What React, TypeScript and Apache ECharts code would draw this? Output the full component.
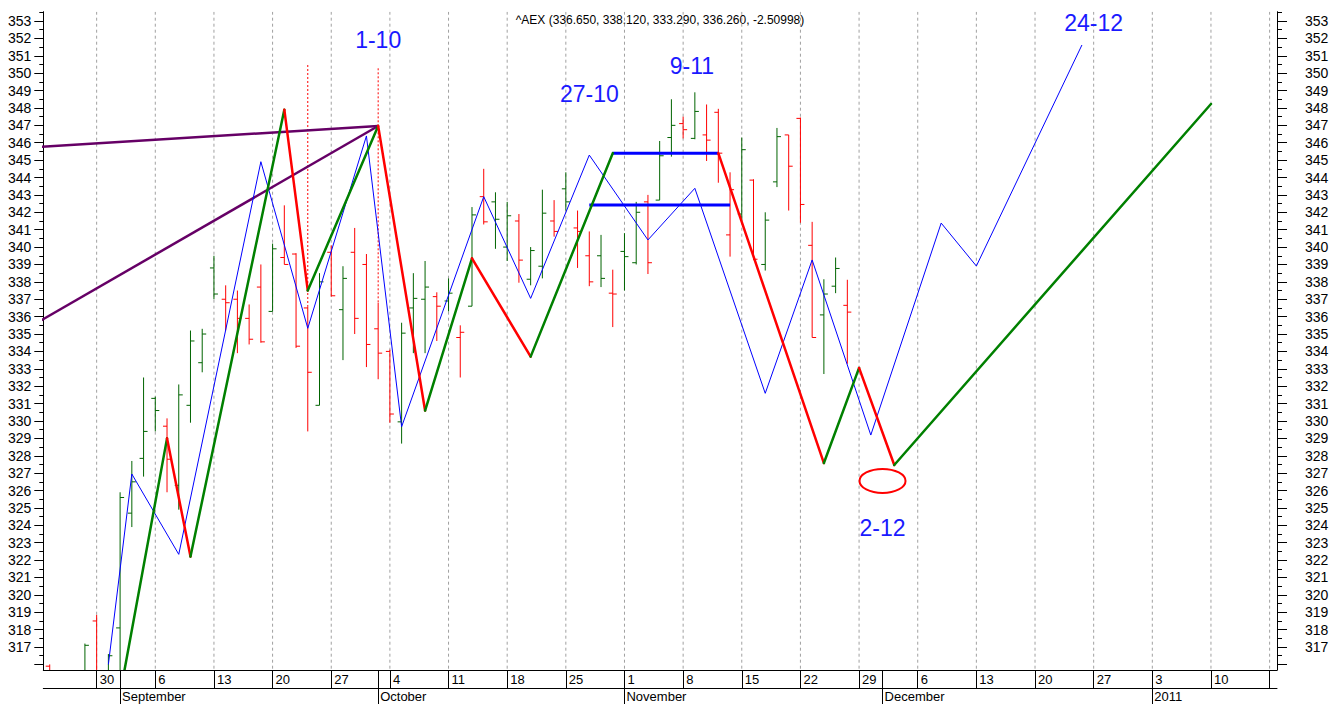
import React, { useEffect, useRef } from "react";
import * as echarts from "echarts";

// x = trading-day index, 0 = Monday 23 Aug 2010 (5 weekdays per week)
const weekLabels = ["23","30","6","13","20","27","4","11","18","25","1","8","15","22","29","6","13","20","27","3","10","17"];
const monthNames = ["September", "October", "November", "December", "2011"];
const monthStartDays = [7, 29, 50, 72, 95];

const barDays = [1,4,5,6,7,8,9,10,11,12,13,14,15,16,17,18,19,20,21,22,23,24,25,26,27,28,29,30,31,32,33,34,35,36,37,38,39,40,41,42,43,44,45,46,47,48,49,50,51,52,53,54,55,56,57,58,59,60,61,62,63,64,65,66,67,68,69];
const opens = [315.9,314.2,318.5,315.2,318.1,324.7,327.85,331.3,329.7,326.3,330.9,333.35,338.8,337.0,337.0,335.9,337.7,336.3,339.4,339.6,336.5,330.9,339.7,336.4,339.7,339.0,335.3,334.0,329.95,336.5,337.0,337.15,336.9,334.8,336.6,342.9,342.6,340.0,341.5,338.15,338.9,341.5,343.35,341.1,339.5,339.5,337.35,339.75,339.1,342.6,342.7,346.3,347.1,346.25,346.45,347.75,340.7,341.9,343.85,339.0,343.75,346.45,347.4,340.1,336.1,337.75,336.65];
const highs = [316.0,317.2,318.85,316.6,325.9,327.7,332.5,331.4,330.15,332.1,335.2,335.3,339.5,337.8,337.5,336.7,339.0,340.2,342.4,339.65,336.6,338.5,340.1,338.9,341.1,339.6,336.8,334.1,335.65,338.5,339.2,337.4,338.2,335.5,342.3,344.5,343.15,342.6,341.9,340.0,343.3,342.7,344.3,342.1,340.9,340.7,338.7,340.8,342.6,343.0,346.1,348.5,347.5,348.9,348.2,347.95,344.3,346.3,343.9,342.0,346.85,346.45,347.45,341.45,338.15,339.4,338.12];
const lows = [312.3,313.8,314.5,314.6,315.3,323.9,326.8,329.4,325.9,324.9,329.9,332.8,337.0,335.2,333.9,334.4,334.5,336.3,339.0,334.2,329.4,330.9,337.15,333.5,335.0,333.1,332.4,329.9,328.7,333.9,333.9,334.6,336.3,332.5,336.6,341.3,339.9,339.2,337.95,337.8,338.2,340.6,342.1,338.8,337.75,337.7,335.4,337.5,339.0,338.45,342.7,345.2,346.25,346.2,344.95,343.7,339.45,341.5,339.25,338.65,343.45,342.1,341.4,334.8,332.7,337.35,333.29];
const closes = [312.6,317.1,315.0,316.5,325.6,326.5,329.4,330.6,327.8,331.5,334.6,335.0,337.3,336.8,335.9,334.7,334.55,339.9,339.0,334.3,332.8,338.0,337.2,338.2,335.9,334.4,333.9,330.4,335.05,337.05,337.7,336.6,337.35,335.1,341.85,341.45,341.6,341.8,339.25,339.8,341.95,340.9,342.6,340.9,338.0,338.2,337.3,339.45,342.0,339.1,345.25,347.0,346.75,347.8,346.15,345.4,343.3,345.6,339.3,341.55,346.35,344.65,342.45,334.8,337.3,338.77,336.26];

// swing lines (green up-legs, red down-legs)
const swingA = [[7,314.3],[11,329.0],[13,322.2],[21,347.9],[23,337.5],[29,346.96],[33,330.6],[37,339.35],[42,333.7],[49,345.4]];
const swingB = [[58,345.4],[67,327.58],[70,333.05],[73,327.47],[100,348.23]];
// thin blue zigzag
const blueZig = [[6,316.0],[8,326.95],[12,322.33],[19,344.91],[23,335.33],[28,346.39],[31,329.67],[38,342.9],[42,337.05],[47,345.29],[52,340.41],[56,343.38],[62,331.59],[66,339.26],[71,329.19],[77,341.38],[80,338.91],[89,351.62]];
// thick blue levels
const levelHigh = [[49,345.4],[58,345.4]];
const levelLow = [[47,342.42],[59,342.42]];
// purple trend lines
const trendFlat = [[0,345.75],[29,346.96]];
const trendSteep = [[0,335.68],[29,346.96]];
// dotted red cycle markers [day, top]
const cycleMarks = [[23,350.47],[29,350.28]];
// annotations [day, value, text]
const notes = [[29,351.9,"1-10"],[47,348.8,"27-10"],[55.75,350.4,"9-11"],[90,352.88,"24-12"],[72,323.85,"2-12"]];
const circleAt = [[72,326.55]];
const titleText = "^AEX (336.650, 338.120, 333.290, 336.260, -2.50998)";

const X_MIN = 0.452, X_MAX = 105.63, Y_MIN = 315.68, Y_MAX = 353.535;
const GREEN_BAR = "#006400", RED = "#ff0000", GREEN = "#008000", BLUE = "#0000ff", PURPLE = "#660066";
const FONT = "Liberation Sans, Arial, sans-serif";

const mondays = weekLabels.map((_, k) => k * 5).filter((d) => d > X_MIN && d < X_MAX);
const labelMondays = mondays.filter((d) => d <= 100);
const yInts: number[] = [];
for (let v = 316; v <= 353; v++) yInts.push(v);
const yHalves: number[] = [];
for (let v = 316; v <= 353; v++) yHalves.push(v - 0.5);
yHalves.push(353.5);
const yLabels = yInts.filter((v) => v >= 317);

export default function App() {
  const ref = useRef<HTMLDivElement>(null);
  useEffect(() => {
    document.body.style.margin = "0";
    const chart = echarts.init(ref.current!, null, { renderer: "svg" });

    const ohlc = barDays.map((d, k) => {
      const prev = k > 0 && barDays[k - 1] === d - 1 ? closes[k - 1] : opens[k];
      return [d, opens[k], highs[k], lows[k], closes[k], closes[k] >= prev ? 1 : 0];
    });
    const segs = (pts: number[][]) => pts.slice(1).map((p, k) => [pts[k][0], pts[k][1], p[0], p[1]]);
    const swingSegs = [...segs(swingA), ...segs(swingB)];
    const cycleData = cycleMarks.map(([d, top]) => [d, top, highs[barDays.indexOf(d)]]);

    const yBase = { type: "value", min: Y_MIN, max: Y_MAX, splitLine: { show: false } };
    const xBase = { type: "value", min: X_MIN, max: X_MAX, splitLine: { show: false } };

    chart.setOption({
      animation: false,
      backgroundColor: "#ffffff",
      grid: { left: 43.3, right: 63, top: 11.7, bottom: 34, containLabel: false },
      xAxis: [
        {
          ...xBase,
          position: "bottom",
          axisLine: { show: true, lineStyle: { color: "#000", width: 1 } },
          axisTick: { show: true, inside: false, length: 18, customValues: [...mondays, ...monthStartDays], lineStyle: { color: "#000" } },
          axisLabel: {
            show: true, customValues: labelMondays, margin: 3, align: "left", padding: [0, 0, 0, 3],
            color: "#000", fontSize: 13, fontFamily: FONT,
            formatter: (v: number) => weekLabels[Math.round(v / 5)],
          },
        },
        {
          ...xBase,
          position: "bottom",
          offset: 18,
          axisLine: { show: true, lineStyle: { color: "#000", width: 1 } },
          axisTick: { show: true, inside: false, length: 16, customValues: monthStartDays, lineStyle: { color: "#000" } },
          axisLabel: {
            show: true, customValues: monthStartDays, margin: 2, align: "left", padding: [0, 0, 0, 2],
            color: "#000", fontSize: 13, fontFamily: FONT,
            formatter: (v: number) => monthNames[monthStartDays.indexOf(Math.round(v))],
          },
        },
      ],
      yAxis: [
        {
          ...yBase, position: "left",
          axisLine: { show: true, lineStyle: { color: "#000" } },
          axisTick: { show: true, length: 9, customValues: yInts, lineStyle: { color: "#000" } },
          axisLabel: { show: true, customValues: yLabels, margin: 12, color: "#000", fontSize: 14, fontFamily: FONT },
        },
        {
          ...yBase, position: "left",
          axisLine: { show: false },
          axisTick: { show: true, length: 4, customValues: yHalves, lineStyle: { color: "#000" } },
          axisLabel: { show: false },
        },
        {
          ...yBase, position: "right",
          axisLine: { show: true, lineStyle: { color: "#000" } },
          axisTick: { show: true, length: 10, customValues: yInts, lineStyle: { color: "#000" } },
          axisLabel: { show: true, customValues: yLabels, margin: 28, color: "#000", fontSize: 14, fontFamily: FONT },
        },
        {
          ...yBase, position: "right",
          axisLine: { show: false },
          axisTick: { show: true, length: 5, customValues: yHalves, lineStyle: { color: "#000" } },
          axisLabel: { show: false },
        },
      ],
      graphic: [
        {
          type: "text", x: 660, y: 20,
          style: { text: titleText, fill: "#000", font: `12px ${FONT}`, align: "center", verticalAlign: "middle", textAlign: "center", textVerticalAlign: "middle" },
        },
      ],
      series: [
        {
          type: "custom", name: "grid", silent: true, clip: true,
          data: mondays.map((d) => [d]),
          encode: { x: 0 },
          renderItem: (params: any, api: any) => {
            const cs = params.coordSys;
            const p = api.coord([api.value(0), Y_MIN]);
            return {
              type: "line",
              shape: { x1: p[0], y1: cs.y, x2: p[0], y2: cs.y + cs.height },
              style: { stroke: "#a0a0a0", lineWidth: 1, lineDash: [3, 3] },
            };
          },
          z: 1,
        },
        {
          type: "custom", name: "cycles", silent: true, clip: true,
          data: cycleData,
          encode: { x: 0, y: [1, 2] },
          renderItem: (params: any, api: any) => {
            const a = api.coord([api.value(0), api.value(1)]);
            const b = api.coord([api.value(0), api.value(2)]);
            return {
              type: "line",
              shape: { x1: a[0], y1: a[1], x2: b[0], y2: b[1] },
              style: { stroke: RED, lineWidth: 1, lineDash: [2, 2] },
            };
          },
          z: 2,
        },
        {
          type: "custom", name: "AEX", clip: true,
          data: ohlc,
          encode: { x: 0, y: [1, 2, 3, 4] },
          renderItem: (params: any, api: any) => {
            const x = api.value(0);
            const pH = api.coord([x, api.value(2)]);
            const pL = api.coord([x, api.value(3)]);
            const pO = api.coord([x, api.value(1)]);
            const pC = api.coord([x, api.value(4)]);
            const color = api.value(5) ? GREEN_BAR : RED;
            const st = { stroke: color, lineWidth: 1 };
            return {
              type: "group",
              children: [
                { type: "line", shape: { x1: pH[0], y1: pH[1], x2: pL[0], y2: pL[1] }, style: st },
                { type: "line", shape: { x1: pO[0] - 4, y1: pO[1], x2: pO[0], y2: pO[1] }, style: st },
                { type: "line", shape: { x1: pC[0], y1: pC[1], x2: pC[0] + 4, y2: pC[1] }, style: st },
              ],
            };
          },
          z: 3,
        },
        {
          type: "line", name: "trendFlat", data: trendFlat, symbol: "none", clip: true,
          lineStyle: { color: PURPLE, width: 2.5 }, z: 4,
        },
        {
          type: "line", name: "trendSteep", data: trendSteep, symbol: "none", clip: true,
          lineStyle: { color: PURPLE, width: 2.5 }, z: 4,
        },
        {
          type: "line", name: "blueZig", data: blueZig, symbol: "none", clip: true,
          lineStyle: { color: BLUE, width: 1 }, z: 5,
        },
        {
          type: "line", name: "levelHigh", data: levelHigh, symbol: "none", clip: true,
          lineStyle: { color: BLUE, width: 3 }, z: 6,
        },
        {
          type: "line", name: "levelLow", data: levelLow, symbol: "none", clip: true,
          lineStyle: { color: BLUE, width: 3 }, z: 6,
        },
        {
          type: "custom", name: "swing", clip: true,
          data: swingSegs,
          encode: { x: [0, 2], y: [1, 3] },
          renderItem: (params: any, api: any) => {
            const a = api.coord([api.value(0), api.value(1)]);
            const b = api.coord([api.value(2), api.value(3)]);
            const up = api.value(3) > api.value(1);
            return {
              type: "line",
              shape: { x1: a[0], y1: a[1], x2: b[0], y2: b[1] },
              style: { stroke: up ? GREEN : RED, lineWidth: 2.5, lineCap: "round" },
            };
          },
          z: 7,
        },
        {
          type: "custom", name: "circle", clip: false,
          data: circleAt,
          encode: { x: 0, y: 1 },
          renderItem: (params: any, api: any) => {
            const c = api.coord([api.value(0), api.value(1)]);
            return {
              type: "ellipse",
              shape: { cx: c[0], cy: c[1], rx: 23, ry: 12 },
              style: { fill: "none", stroke: RED, lineWidth: 2 },
            };
          },
          z: 8,
        },
        {
          type: "custom", name: "notes", clip: false,
          data: notes,
          encode: { x: 0, y: 1 },
          renderItem: (params: any, api: any) => {
            const c = api.coord([api.value(0), api.value(1)]);
            return {
              type: "text",
              x: c[0], y: c[1],
              style: {
                text: notes[params.dataIndex][2], fill: "#1a1aff", font: `23px ${FONT}`,
                align: "center", verticalAlign: "middle", textAlign: "center", textVerticalAlign: "middle",
              },
            };
          },
          z: 9,
        },
      ],
    });
    return () => chart.dispose();
  }, []);
  return <div ref={ref} style={{ position: "absolute", left: 0, top: 0, width: 1340, height: 704 }} />;
}
